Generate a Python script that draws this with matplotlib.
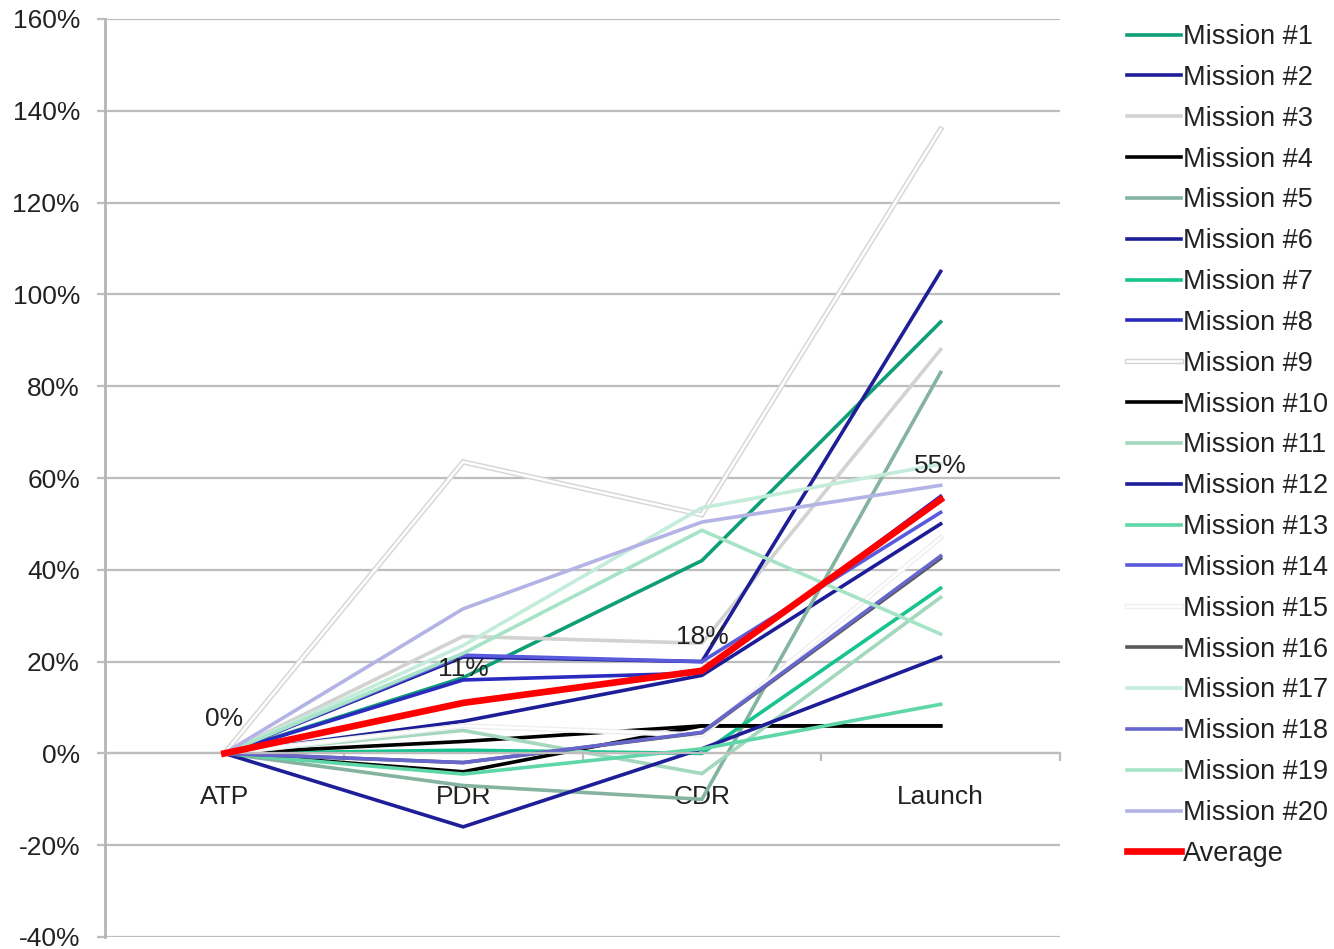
import matplotlib
matplotlib.use("Agg")
import matplotlib.pyplot as plt
import matplotlib.patheffects as pe
from matplotlib.ticker import FuncFormatter, FixedLocator

plt.rcParams['font.family'] = ['Liberation Sans', 'DejaVu Sans']

# --- milestones and growth per mission (fraction of ATP baseline) ---
milestones = ['ATP', 'PDR', 'CDR', 'Launch']

mission_1 = [0.0, 0.165, 0.42, 0.94]
mission_2 = [0.0, 0.07, 0.17, 0.50]
mission_3 = [0.0, 0.255, 0.24, 0.88]
mission_4 = [0.0, -0.04, 0.06, 0.06]
mission_5 = [0.0, -0.07, -0.10, 0.83]
mission_6 = [0.0, 0.21, 0.20, 1.05]
mission_7 = [0.0, 0.007, 0.0, 0.36]
mission_8 = [0.0, 0.16, 0.175, 0.56]
mission_9 = [0.0, 0.635, 0.52, 1.36]
mission_10 = [0.0, 0.026, 0.06, 0.06]
mission_11 = [0.0, 0.05, -0.044, 0.34]
mission_12 = [0.0, -0.16, 0.01, 0.21]
mission_13 = [0.0, -0.045, 0.01, 0.107]
mission_14 = [0.0, 0.214, 0.20, 0.525]
mission_15 = [0.0, 0.06, 0.04, 0.47]
mission_16 = [0.0, -0.02, 0.045, 0.425]
mission_17 = [0.0, 0.235, 0.535, 0.63]
mission_18 = [0.0, -0.02, 0.046, 0.43]
mission_19 = [0.0, 0.218, 0.486, 0.26]
mission_20 = [0.0, 0.315, 0.504, 0.584]
average = [0.0, 0.11, 0.18, 0.553]

missions = [mission_1, mission_2, mission_3, mission_4, mission_5,
            mission_6, mission_7, mission_8, mission_9, mission_10,
            mission_11, mission_12, mission_13, mission_14, mission_15,
            mission_16, mission_17, mission_18, mission_19, mission_20]
mission_names = [f'Mission #{i}' for i in range(1, 21)]
mission_colors = ['#0f9f77', '#1d1d98', '#d2d2d2', '#000000', '#84b3a0',
                  '#1e1e96', '#17c38e', '#2a2abf', '#ffffff', '#000000',
                  '#a3d8bf', '#1e1e98', '#5ed6a8', '#5a5adc', '#ffffff',
                  '#595959', '#c4ecda', '#6666cc', '#a6e3c7', '#b3b3e6']
# white series get a thin grey outline so they stay visible
outlines = {8: '#d6d6d6', 14: '#efefef'}

fig = plt.figure(figsize=(13.34, 9.49), dpi=100)
ax = fig.add_axes([105 / 1334, 1 - 937 / 949, 955 / 1334, 918 / 949])

x = list(range(len(milestones)))
for i, (vals, name, col) in enumerate(zip(missions, mission_names, mission_colors)):
    line, = ax.plot(x, vals, color=col, lw=2.6, label=name,
                    solid_joinstyle='miter', zorder=2 + i * 0.01)
    if i in outlines:
        line.set_linewidth(1.8)
        line.set_path_effects([pe.Stroke(linewidth=3.9, foreground=outlines[i]),
                               pe.Normal()])

ax.plot(x, average, color='#ff0000', lw=4.8, label='Average', zorder=3,
        solid_joinstyle='miter')
for xi, v in zip(x, average):
    ax.annotate(f'{v * 100:.0f}%', (xi, v), xytext=(0, 24.5), textcoords='offset points',
                ha='center', va='center', fontsize=19, color='#222222', zorder=4)

# axes styling
ax.set_xlim(-0.5, len(milestones) - 0.5)
ax.set_ylim(-0.4, 1.6)
ax.set_yticks([i / 100 for i in range(-40, 161, 20)])
ax.yaxis.set_major_formatter(FuncFormatter(lambda v, p: f'{v * 100:.0f}%'))
ax.yaxis.grid(True, color='#bdbdbd', lw=1.6)
ax.set_axisbelow(True)

for s in ['top', 'right']:
    ax.spines[s].set_visible(False)
ax.spines['left'].set_color('#b5b5b5')
ax.spines['left'].set_linewidth(2)
ax.spines['bottom'].set_position(('data', 0))
ax.spines['bottom'].set_color('#bdbdbd')
ax.spines['bottom'].set_linewidth(1.6)

ax.set_xticks(x)
ax.set_xticklabels(milestones)
ax.xaxis.set_minor_locator(FixedLocator([0.5, 1.5, 2.5, 3.5]))
ax.tick_params(axis='x', which='major', length=0, pad=22.5, labelsize=19,
               labelcolor='#222222')
ax.tick_params(axis='x', which='minor', length=6, width=1.6, color='#bdbdbd',
               direction='out')
ax.tick_params(axis='y', length=6, width=1.6, color='#bdbdbd', pad=12,
               labelsize=19, labelcolor='#222222')

leg = fig.legend(loc='upper left', bbox_to_anchor=(1127 / 1334, 1 - 24 / 949),
                 frameon=False, fontsize=19.5, handlelength=2.0, handletextpad=0.05,
                 labelspacing=0.548, borderpad=0, borderaxespad=0)
for t in leg.get_texts():
    t.set_color('#222222')

fig.savefig('out.png', dpi=100)
